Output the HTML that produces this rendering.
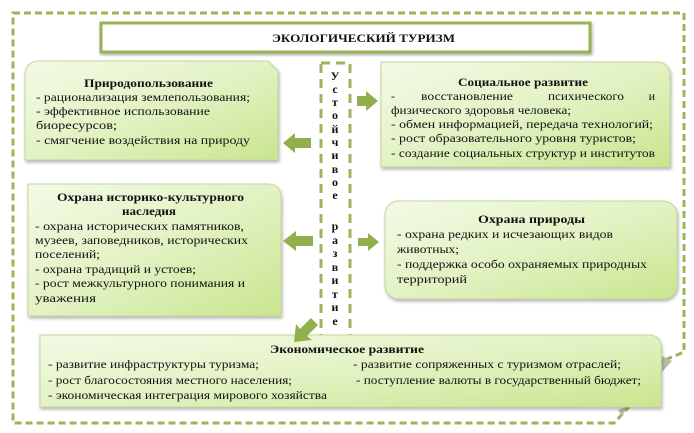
<!DOCTYPE html>
<html><head><meta charset="utf-8"><style>
html,body{margin:0;padding:0;background:#fff;width:694px;height:433px;overflow:hidden}
svg{display:block}
text{font-family:"Liberation Serif",serif;font-size:12px;fill:#111}
.b{font-weight:bold}
</style></head><body>
<svg width="694" height="433" viewBox="0 0 694 433" xmlns="http://www.w3.org/2000/svg">
<defs>
<linearGradient id="g" x1="0" y1="0" x2="1" y2="1">
<stop offset="0" stop-color="#f3fae6"/><stop offset="0.5" stop-color="#e2f2c3"/><stop offset="1" stop-color="#c9e58e"/>
</linearGradient>
<filter id="s" x="-5%" y="-5%" width="115%" height="120%"><feDropShadow dx="1" dy="2" stdDeviation="1.5" flood-color="#000" flood-opacity="0.3"/></filter>
</defs>
<path d="M13,13 H684 V352 L660,362 L628,408 L614,423 H13 Z" fill="none" stroke="#9bb55a" stroke-width="3" stroke-dasharray="7,4"/>
<path d="M662,356 L672,361 L662,372 Z" fill="#b4bca6"/>
<path d="M618,410 L628,406 L622,416 Z" fill="#b4bca6"/>
<rect x="101" y="23" width="489" height="29" fill="#fff" stroke="#97b356" stroke-width="3" filter="url(#s)"/>
<text x="272" y="42" class="b" textLength="183" lengthAdjust="spacingAndGlyphs">ЭКОЛОГИЧЕСКИЙ  ТУРИЗМ</text>
<rect x="321" y="63" width="29" height="276" fill="#fff" stroke="#9bb55a" stroke-width="3" stroke-dasharray="9,6"/>
<g text-anchor="middle">
<text x="335" y="80" class="b">У</text><text x="335" y="93" class="b">с</text><text x="335" y="106" class="b">т</text><text x="335" y="119" class="b">о</text><text x="335" y="133" class="b">й</text><text x="335" y="146" class="b">ч</text><text x="335" y="159" class="b">и</text><text x="335" y="173" class="b">в</text><text x="335" y="186" class="b">о</text><text x="335" y="199" class="b">е</text>
<text x="335" y="230" class="b">р</text><text x="335" y="244" class="b">а</text><text x="335" y="257" class="b">з</text><text x="335" y="271" class="b">в</text><text x="335" y="284" class="b">и</text><text x="335" y="298" class="b">т</text><text x="335" y="311" class="b">и</text><text x="335" y="325" class="b">е</text>
</g>
<path d="M40,61 H268 L278,71 V160 H25 V76 Q25,61 40,61 Z" fill="url(#g)" stroke="#c4d8a0" filter="url(#s)"/>
<text x="84" y="87" class="b" textLength="129" lengthAdjust="spacingAndGlyphs">Природопользование</text>
<text x="36" y="101" textLength="214" lengthAdjust="spacingAndGlyphs">- рационализация землепользования;</text>
<text x="36" y="115" textLength="174" lengthAdjust="spacingAndGlyphs">- эффективное использование</text>
<text x="36" y="129" textLength="81" lengthAdjust="spacingAndGlyphs">биоресурсов;</text>
<text x="36" y="144" textLength="214" lengthAdjust="spacingAndGlyphs">- смягчение воздействия на природу</text>
<path d="M381,62 H656 Q670,62 670,76 V167 H381 Z" fill="url(#g)" stroke="#c4d8a0" filter="url(#s)"/>
<text x="458" y="86" class="b" textLength="130" lengthAdjust="spacingAndGlyphs">Социальное развитие</text>
<text x="391" y="100">-</text><text x="421" y="100" textLength="92" lengthAdjust="spacingAndGlyphs">восстановление</text><text x="548" y="100" textLength="76" lengthAdjust="spacingAndGlyphs">психического</text><text x="655" y="100" text-anchor="end">и</text>
<text x="391" y="114" textLength="180" lengthAdjust="spacingAndGlyphs">физического здоровья человека;</text>
<text x="391" y="128" textLength="262" lengthAdjust="spacingAndGlyphs">- обмен информацией, передача технологий;</text>
<text x="391" y="142" textLength="245" lengthAdjust="spacingAndGlyphs">- рост образовательного уровня туристов;</text>
<text x="391" y="157" textLength="264" lengthAdjust="spacingAndGlyphs">- создание социальных структур и институтов</text>
<path d="M28,184 H267 Q281,184 281,198 V316 H28 Z" fill="url(#g)" stroke="#c4d8a0" filter="url(#s)"/>
<text x="57" y="201" class="b" textLength="187" lengthAdjust="spacingAndGlyphs">Охрана историко-культурного</text>
<text x="122" y="215" class="b" textLength="54" lengthAdjust="spacingAndGlyphs">наследия</text>
<text x="35" y="230" textLength="209" lengthAdjust="spacingAndGlyphs">- охрана исторических памятников,</text>
<text x="35" y="244" textLength="213" lengthAdjust="spacingAndGlyphs">музеев, заповедников, исторических</text>
<text x="35" y="258" textLength="65" lengthAdjust="spacingAndGlyphs">поселений;</text>
<text x="35" y="273" textLength="161" lengthAdjust="spacingAndGlyphs">- охрана традиций и устоев;</text>
<text x="35" y="287" textLength="210" lengthAdjust="spacingAndGlyphs">- рост межкультурного понимания и</text>
<text x="35" y="302" textLength="61" lengthAdjust="spacingAndGlyphs">уважения</text>
<rect x="385" y="201" width="292" height="98" rx="14" fill="url(#g)" stroke="#c4d8a0" filter="url(#s)"/>
<text x="478" y="223" class="b" textLength="107" lengthAdjust="spacingAndGlyphs">Охрана природы</text>
<text x="397" y="238" textLength="216" lengthAdjust="spacingAndGlyphs">-  охрана редких и исчезающих видов</text>
<text x="397" y="253" textLength="62" lengthAdjust="spacingAndGlyphs">животных;</text>
<text x="397" y="268" textLength="250" lengthAdjust="spacingAndGlyphs">- поддержка особо охраняемых природных</text>
<text x="397" y="283" textLength="70" lengthAdjust="spacingAndGlyphs">территорий</text>
<path d="M40,335 H648 Q661,335 661,348 V407 H40 Z" fill="url(#g)" stroke="#c4d8a0" filter="url(#s)"/>
<text x="270" y="353" class="b" textLength="154" lengthAdjust="spacingAndGlyphs">Экономическое развитие</text>
<text x="48" y="368" textLength="211" lengthAdjust="spacingAndGlyphs">- развитие инфраструктуры туризма;</text>
<text x="353" y="368" textLength="268" lengthAdjust="spacingAndGlyphs">- развитие сопряженных с туризмом отраслей;</text>
<text x="48" y="384" textLength="244" lengthAdjust="spacingAndGlyphs">- рост благосостояния местного населения;</text>
<text x="356" y="384" textLength="285" lengthAdjust="spacingAndGlyphs">- поступление валюты в государственный бюджет;</text>
<text x="48" y="399" textLength="279" lengthAdjust="spacingAndGlyphs">- экономическая интеграция мирового хозяйства</text>
<g fill="#8fb04a">
<path d="M283,143 L295,133 V138 H311 V148 H295 V153 Z"/>
<path d="M378,101 L366,91 V96 H357 V106 H366 V111 Z"/>
<path d="M283,241 L296,231 V236 H313 V246 H296 V251 Z"/>
<path d="M379,242 L368,233 V238 H358 V246 H368 V251 Z"/>
<path d="M294,342 L296,324 L300,329 L311,318 L318,325 L307,336 L312,340 Z"/>
</g>
</svg>
</body></html>
